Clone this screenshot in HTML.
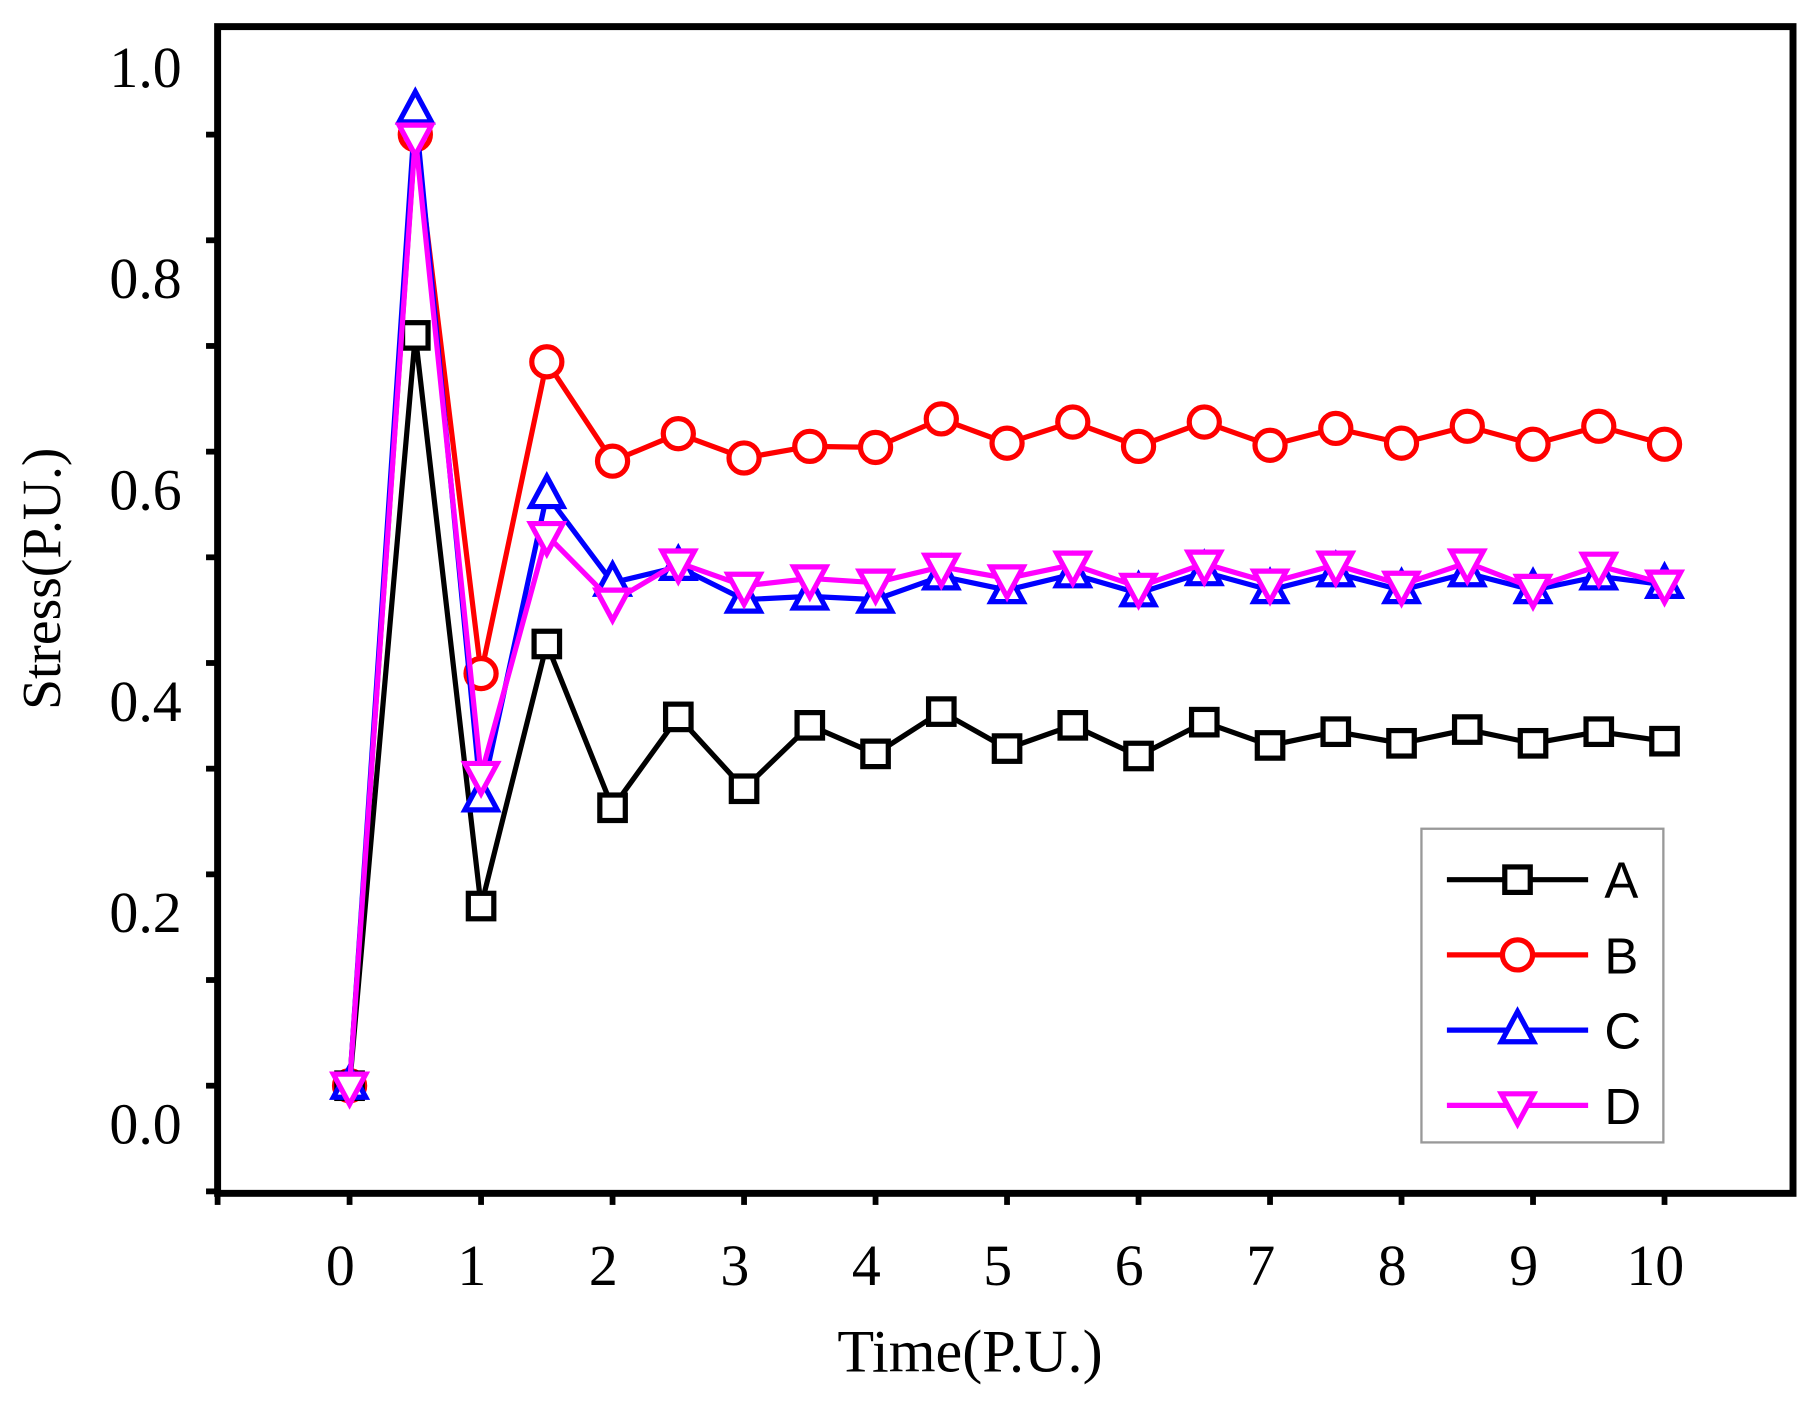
<!DOCTYPE html>
<html><head><meta charset="utf-8"><style>html,body{margin:0;padding:0;background:#fff}svg{display:block}</style></head>
<body>
<svg width="1815" height="1404" viewBox="0 0 1568 1213" preserveAspectRatio="none" xmlns="http://www.w3.org/2000/svg">
<g id="axes"></g>
<g id="series"></g>
<g id="legend"></g>
</svg>
<script>
const xs=[0,0.5,1,1.5,2,2.5,3,3.5,4,4.5,5,5.5,6,6.5,7,7.5,8,8.5,9,9.5,10];
const seriesA=[0,0.71,0.17,0.418,0.263,0.349,0.281,0.341,0.314,0.354,0.319,0.341,0.312,0.344,0.322,0.335,0.324,0.337,0.324,0.335,0.326];
const seriesB=[0,0.9,0.39,0.685,0.591,0.617,0.594,0.605,0.604,0.631,0.608,0.628,0.605,0.628,0.606,0.622,0.608,0.624,0.607,0.624,0.607];
const seriesC=[0,0.923,0.272,0.559,0.476,0.491,0.46,0.463,0.46,0.482,0.469,0.484,0.466,0.486,0.469,0.485,0.469,0.485,0.469,0.482,0.474];
const seriesD=[0,0.898,0.294,0.521,0.458,0.495,0.473,0.48,0.476,0.491,0.48,0.493,0.472,0.494,0.476,0.493,0.474,0.495,0.471,0.492,0.475];
const xTickLabels=["0","1","2","3","4","5","6","7","8","9","10"];
const yTickLabels=["0.0","0.2","0.4","0.6","0.8","1.0"];
const legendNames=["A","B","C","D"];

const NS="http://www.w3.org/2000/svg";
const L=188,R=1549,T=23,B=1031;
function X(v){return 302+v*113.6;}
function Y(v){return 938-v*913;}
function mk(tag,attrs,parent){const e=document.createElementNS(NS,tag);for(const k in attrs)e.setAttribute(k,attrs[k]);parent.appendChild(e);return e;}
const axes=document.getElementById('axes'),ser=document.getElementById('series'),leg=document.getElementById('legend');

let fr=mk('rect',{x:L,y:T,width:R-L,height:B-T,fill:'none',stroke:'#000','stroke-width':6},axes);


for(let i=-1;i<=9;i++){
  const y=Y(i/10);
  const t=mk('line',{x1:L-10,x2:L,y1:y,y2:y,stroke:'#000','stroke-width':5},axes);
  
  
}
yTickLabels.forEach((s,i)=>{
  const t=mk('text',{x:157,y:Y(i*0.2)+50,'text-anchor':'end','font-family':'Liberation Serif, serif','font-size':50},axes);
  t.textContent=s;
  
  
});
const ct=mk('line',{x1:L,x2:L,y1:B,y2:B+10,stroke:'#000','stroke-width':5},axes);


xTickLabels.forEach((s,i)=>{
  const x=X(i);
  const t=mk('line',{x1:x,x2:x,y1:B,y2:B+10,stroke:'#000','stroke-width':5},axes);
  
  
  const l=mk('text',{x:x-8,y:1110,'text-anchor':'middle','font-family':'Liberation Serif, serif','font-size':50},axes);
  l.textContent=s;
  
  
});
const xt=mk('text',{x:838,y:1185,'text-anchor':'middle','font-family':'Liberation Serif, serif','font-size':52},axes);
xt.textContent='Time(P.U.)';


const yt=mk('text',{x:0,y:0,'text-anchor':'middle','font-family':'Liberation Serif, serif','font-size':48,transform:'translate(52,500) rotate(-90)'},axes);
yt.textContent='Stress(P.U.)';



function marker(type,x,y,color,parent){
  let e;
  if(type==='square')e=mk('rect',{x:x-11,y:y-11,width:22,height:22,fill:'#fff',stroke:color,'stroke-width':4.5},parent);
  else if(type==='circle')e=mk('circle',{cx:x,cy:y,r:13,fill:'#fff',stroke:color,'stroke-width':4.5},parent);
  else if(type==='up')e=mk('polygon',{points:`${x},${y-16} ${x-14},${y+10} ${x+14},${y+10}`,fill:'#fff',stroke:color,'stroke-width':4.5},parent);
  else e=mk('polygon',{points:`${x},${y+16} ${x-14},${y-10} ${x+14},${y-10}`,fill:'#fff',stroke:color,'stroke-width':4.5},parent);
  return e;
}
const defs=[[seriesA,'#000','square','series-a'],[seriesB,'#f00','circle','series-b'],[seriesC,'#00f','up','series-c'],[seriesD,'#f0f','down','series-d']];
const drawOrder=[1,0,2,3];
drawOrder.forEach(k=>{
  const [d,c,m,n]=defs[k];
  const g=mk('g',{},ser);
  
  
  const p=mk('polyline',{points:d.map((v,i)=>X(xs[i])+','+Y(v)).join(' '),fill:'none',stroke:c,'stroke-width':4.5},g);
  
  
  d.forEach((v,i)=>{
    const e=marker(m,X(xs[i]),Y(v),c,g);
    
    
  });
});
const lb=mk('rect',{x:1228,y:716,width:209,height:271,fill:'#fff',stroke:'#999','stroke-width':2},leg);


defs.forEach(([d,c,m,n],i)=>{
  const y=760+i*65;
  const g=mk('g',{},leg);
  
  
  mk('line',{x1:1250,x2:1372,y1:y,y2:y,stroke:c,'stroke-width':4.5},g);
  marker(m,1311,y,c,g);
  const t=mk('text',{x:1386,y:y+16,'font-family':'Liberation Sans, sans-serif','font-size':44},g);
  t.textContent=legendNames[i];
  
  
});
</script>
</body></html>
